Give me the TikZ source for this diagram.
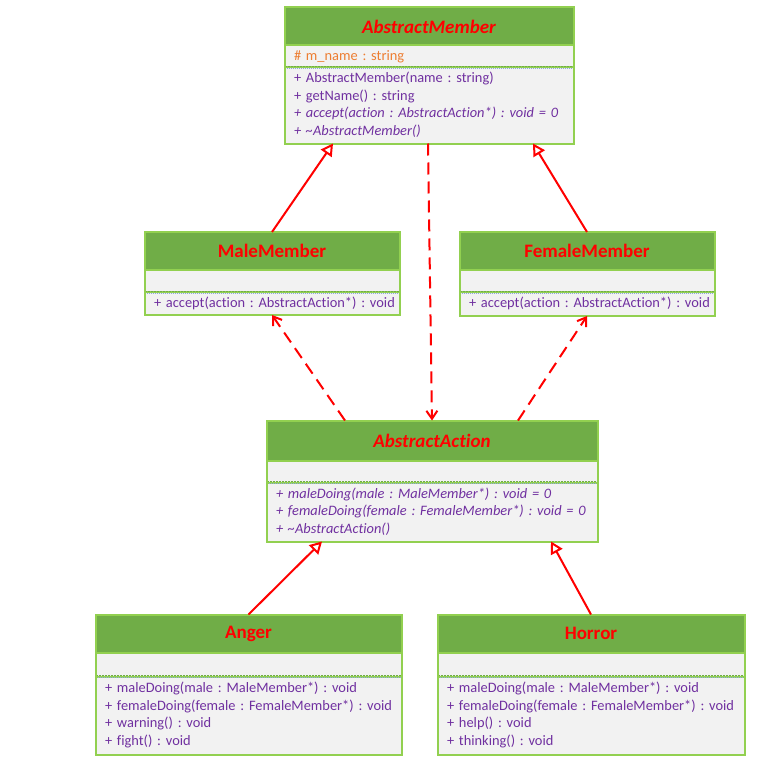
\documentclass[tikz,border=0pt]{standalone}
\usepackage{fontspec}
\setmainfont{Carlito}[Ligatures={NoCommon}]
\usetikzlibrary{arrows.meta, positioning}

\definecolor{headgreen}{HTML}{70AD47}
\definecolor{framegreen}{HTML}{92D050}
\definecolor{bodygray}{HTML}{F2F2F2}
\definecolor{umlpurple}{HTML}{7030A0}
\definecolor{attrorange}{HTML}{ED7D31}
\definecolor{sepgreen}{HTML}{70AD47}
\definecolor{sepblue}{HTML}{8EA9DB}

\tikzset{
  head/.style={fill=headgreen, draw=framegreen, line width=1pt, text=red,
    font=\fontsize{19}{22}\selectfont\bfseries, minimum height=37pt, inner sep=0pt},
  part/.style={fill=bodygray, draw=framegreen, line width=1pt, text=umlpurple,
    font=\fontsize{14.4}{17.5}\selectfont\frenchspacing, inner xsep=9pt, inner ysep=0pt,
    align=left, anchor=north},
  frame/.style={draw=framegreen, line width=2pt},
  sepline/.style={draw=sepgreen, dash pattern=on 2pt off 1pt, line width=1pt},
  sepdots/.style={draw=sepblue, dash pattern=on 1pt off 1pt, line width=0.8pt},
  inherit/.style={draw=red, line width=2pt, -{Triangle[open, length=12pt, width=13pt]}},
  depend/.style={draw=red, line width=2pt, dash pattern=on 12pt off 7pt,
    -{Straight Barb[length=8pt, width=11pt]}}
}

\begin{document}
\begin{tikzpicture}[x=1pt, y=-1pt]
  \useasboundingbox (0,0) rectangle (776,760);

  % AbstractMember
  \node[head, minimum width=288pt] (am) at (429,26.5) {\itshape AbstractMember};
  \node[part, text width=270pt, minimum height=21pt, text=attrorange] (ama) at (am.south) {\# m\_name : string};
  \node[part, text width=270pt, minimum height=75pt] (amm) at (ama.south) {\begin{tabular}{@{}l@{}}
    + AbstractMember(name : string)\\
    + getName() : string\\
    \textit{+ accept(action : AbstractAction*) : void = 0}\\
    \textit{+ \textasciitilde AbstractMember()}\end{tabular}};
  \draw[sepline] ([yshift=1pt]ama.south west) -- ([yshift=1pt]ama.south east);
  \draw[sepdots] ([yshift=-1pt]ama.south west) -- ([yshift=-1pt]ama.south east);
  \draw[frame] (am.north west) rectangle (amm.south east);

  % MaleMember
  \node[head, minimum width=254pt] (male) at (272,251) {MaleMember};
  \node[part, text width=236pt, minimum height=21pt] (malea) at (male.south) {};
  \node[part, text width=236pt, minimum height=22pt] (malem) at (malea.south) {\begin{tabular}{@{}l@{}}
    + accept(action : AbstractAction*) : void\end{tabular}};
  \draw[sepline] ([yshift=1pt]malea.south west) -- ([yshift=1pt]malea.south east);
  \draw[sepdots] ([yshift=-1pt]malea.south west) -- ([yshift=-1pt]malea.south east);
  \draw[frame] (male.north west) rectangle (malem.south east);

  % FemaleMember
  \node[head, minimum width=254pt] (female) at (587,251) {FemaleMember};
  \node[part, text width=236pt, minimum height=21pt] (femalea) at (female.south) {};
  \node[part, text width=236pt, minimum height=23pt] (femalem) at (femalea.south) {\begin{tabular}{@{}l@{}}
    + accept(action : AbstractAction*) : void\end{tabular}};
  \draw[sepline] ([yshift=1pt]femalea.south west) -- ([yshift=1pt]femalea.south east);
  \draw[sepdots] ([yshift=-1pt]femalea.south west) -- ([yshift=-1pt]femalea.south east);
  \draw[frame] (female.north west) rectangle (femalem.south east);

  % AbstractAction
  \node[head, minimum width=330pt, minimum height=39pt] (aa) at (432,440.5) {\itshape AbstractAction};
  \node[part, text width=312pt, minimum height=21pt] (aaa) at (aa.south) {};
  \node[part, text width=312pt, minimum height=58pt] (aam) at (aaa.south) {\begin{tabular}{@{}l@{}}
    \textit{+ maleDoing(male : MaleMember*) : void = 0}\\
    \textit{+ femaleDoing(female : FemaleMember*) : void = 0}\\
    \textit{+ \textasciitilde AbstractAction()}\end{tabular}};
  \draw[sepline] ([yshift=1pt]aaa.south west) -- ([yshift=1pt]aaa.south east);
  \draw[sepdots] ([yshift=-1pt]aaa.south west) -- ([yshift=-1pt]aaa.south east);
  \draw[frame] (aa.north west) rectangle (aam.south east);

  % Anger
  \node[head, minimum width=305pt] (anger) at (248.5,633.5) {Anger};
  \node[part, text width=287pt, minimum height=23pt] (angera) at (anger.south) {};
  \node[part, text width=287pt, minimum height=77pt] (angerm) at (angera.south) {\begin{tabular}{@{}l@{}}
    + maleDoing(male : MaleMember*) : void\\
    + femaleDoing(female : FemaleMember*) : void\\
    + warning() : void\\
    + fight() : void\end{tabular}};
  \draw[sepline] ([yshift=1pt]angera.south west) -- ([yshift=1pt]angera.south east);
  \draw[sepdots] ([yshift=-1pt]angera.south west) -- ([yshift=-1pt]angera.south east);
  \draw[frame] (anger.north west) rectangle (angerm.south east);

  % Horror
  \node[head, minimum width=306pt] (horror) at (591,633.5) {Horror};
  \node[part, text width=288pt, minimum height=23pt] (horrora) at (horror.south) {};
  \node[part, text width=288pt, minimum height=77pt] (horrorm) at (horrora.south) {\begin{tabular}{@{}l@{}}
    + maleDoing(male : MaleMember*) : void\\
    + femaleDoing(female : FemaleMember*) : void\\
    + help() : void\\
    + thinking() : void\end{tabular}};
  \draw[sepline] ([yshift=1pt]horrora.south west) -- ([yshift=1pt]horrora.south east);
  \draw[sepdots] ([yshift=-1pt]horrora.south west) -- ([yshift=-1pt]horrora.south east);
  \draw[frame] (horror.north west) rectangle (horrorm.south east);

  % inheritance
  \draw[inherit] (male.north) -- ([xshift=-96pt]amm.south);
  \draw[inherit] (female.north) -- ([xshift=104pt]amm.south);
  \draw[inherit] (anger.north) -- ([xshift=-110pt]aam.south);
  \draw[inherit] (horror.north) -- ([xshift=119pt]aam.south);

  % dependencies
  \draw[depend] ([xshift=-1pt]amm.south) -- (aa.north);
  \draw[depend] ([xshift=-87pt]aa.north) -- (malem.south);
  \draw[depend] ([xshift=86pt]aa.north) -- (femalem.south);
\end{tikzpicture}
\end{document}
